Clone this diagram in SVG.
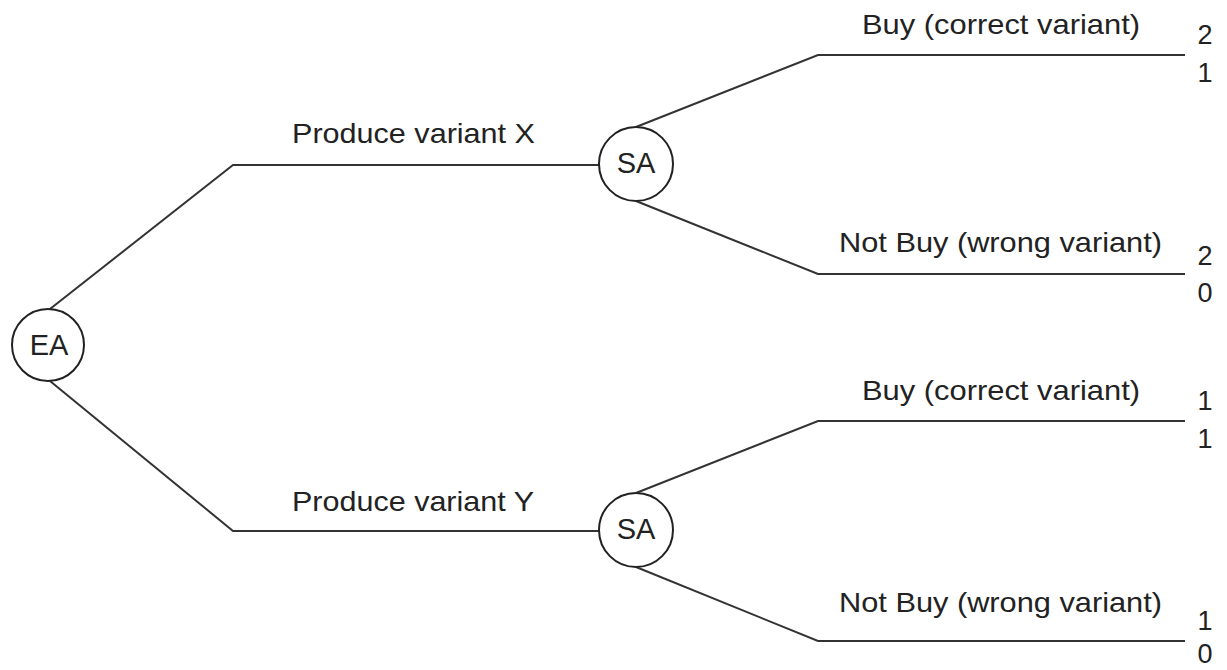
<svg xmlns="http://www.w3.org/2000/svg" width="1227" height="670" viewBox="0 0 1227 670">
  <style>
    .edge { fill: none; stroke: #333; stroke-width: 2; }
    .node circle { fill: #fff; stroke: #222; stroke-width: 2; }
    .node text { font-family: "Liberation Sans", Arial, sans-serif; font-size: 29px; fill: #222; text-anchor: middle; }
    .lbl { font-family: "Liberation Sans", Arial, sans-serif; font-size: 28px; fill: #222; }
    .pay { font-family: "Liberation Sans", Arial, sans-serif; font-size: 27px; fill: #222; text-anchor: middle; }
  </style>
  <rect width="1227" height="670" fill="#fff"/>

  <!-- branches of the game tree -->
  <g id="connectors">
    <polyline class="edge" points="50,309 233,165 599,165"/>
    <polyline class="edge" points="50,381 233,531 599,531"/>
    <polyline class="edge" points="636,127 818,55 1185,55"/>
    <polyline class="edge" points="636,201 818,274 1185,274"/>
    <polyline class="edge" points="636,493 818,421 1185,421"/>
    <polyline class="edge" points="636,567 818,641 1185,641"/>
  </g>

  <!-- decision nodes -->
  <g id="node-ea" class="node">
    <circle cx="48" cy="345" r="36"/>
    <text x="49" y="355">EA</text>
  </g>
  <g id="node-sa-x" class="node">
    <circle cx="636" cy="164" r="37"/>
    <text x="636" y="173">SA</text>
  </g>
  <g id="node-sa-y" class="node">
    <circle cx="636" cy="530" r="37"/>
    <text x="636" y="539">SA</text>
  </g>

  <!-- action labels -->
  <g id="labels">
    <text class="lbl" x="292" y="143" textLength="243" lengthAdjust="spacingAndGlyphs">Produce variant X</text>
    <text class="lbl" x="292" y="511" textLength="242" lengthAdjust="spacingAndGlyphs">Produce variant Y</text>
    <text class="lbl" x="862" y="34" textLength="278" lengthAdjust="spacingAndGlyphs">Buy (correct variant)</text>
    <text class="lbl" x="839" y="252" textLength="323" lengthAdjust="spacingAndGlyphs">Not Buy (wrong variant)</text>
    <text class="lbl" x="862" y="400" textLength="278" lengthAdjust="spacingAndGlyphs">Buy (correct variant)</text>
    <text class="lbl" x="839" y="612" textLength="323" lengthAdjust="spacingAndGlyphs">Not Buy (wrong variant)</text>
  </g>

  <!-- payoffs (EA above, SA below) -->
  <g id="payoffs">
    <text class="pay" x="1205" y="44">2</text>
    <text class="pay" x="1205" y="82">1</text>
    <text class="pay" x="1205" y="265">2</text>
    <text class="pay" x="1205" y="302">0</text>
    <text class="pay" x="1205" y="410">1</text>
    <text class="pay" x="1205" y="448">1</text>
    <text class="pay" x="1205" y="630">1</text>
    <text class="pay" x="1205" y="663">0</text>
  </g>
</svg>
